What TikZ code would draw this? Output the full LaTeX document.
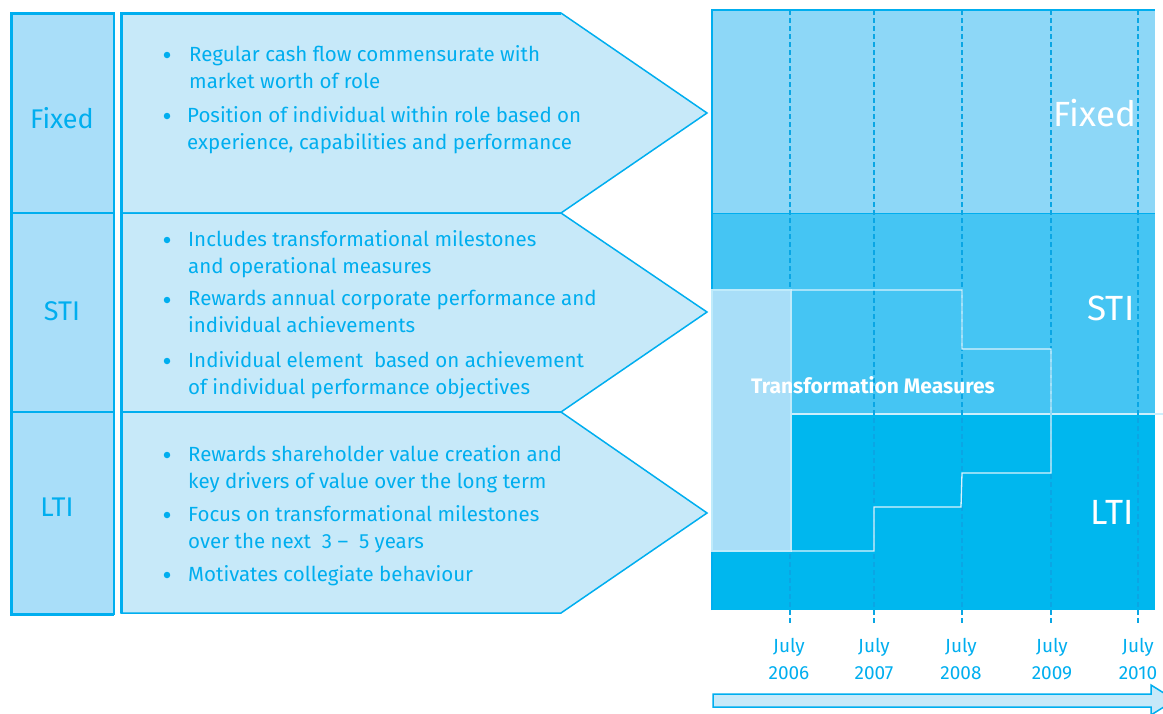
\documentclass[tikz,border=0pt]{standalone}
\usepackage{fontspec}
\setmainfont{Fira Sans}
\definecolor{cy}{HTML}{00AEEF}
\definecolor{dl}{HTML}{0AA6E4}
\definecolor{lbox}{HTML}{A9DEF9}
\definecolor{chev}{HTML}{C7E9F9}
\definecolor{bfix}{HTML}{8DD7F7}
\definecolor{bsti}{HTML}{45C5F3}
\definecolor{blti}{HTML}{00B7EE}
\definecolor{tm}{HTML}{A8DEF8}
\begin{document}
\begin{tikzpicture}[x=1pt,y=-1pt,
  chevbox/.style={fill=chev,draw=cy,line width=1.5pt,line join=miter},
  labbox/.style={fill=lbox,draw=cy,line width=1.5pt},
  lab/.style={text=cy,font=\fontsize{27}{30}\selectfont},
  bul/.style={text=cy,anchor=north west,align=left,inner sep=0pt,font=\fontsize{20.5}{27}\selectfont},
  dot/.style={fill=cy,circle,inner sep=0pt,minimum size=6.5pt},
  big/.style={text=white,font=\fontsize{35}{38}\selectfont},
  yr/.style={text=cy,font=\fontsize{19}{27}\selectfont,align=center},
  vline/.style={draw=dl,line width=2.5pt,dash pattern=on 5pt off 3pt},
  stepline/.style={draw=white!85!cy,line width=1.3pt}]
\useasboundingbox (0,0) rectangle (1163,713);
% left labels
\draw[labbox] (11,13) rectangle (114,213);
\draw[labbox] (11,213) rectangle (114,412);
\draw[labbox] (11,412) rectangle (114,614);
\draw[cy,line width=3pt] (11,613) -- (11,13) -- (114,13);
\draw[cy,line width=3pt] (10,614) -- (114,614);
\node[lab] (lfix) at (62,118) {Fixed};
\node[lab] (lsti) at (62,311) {STI};
\node[lab] (llti) at (57,507) {LTI};
% chevrons
\draw[chevbox] (121,13) -- (561,13) -- (707,113) -- (561,213) -- (121,213) -- cycle;
\draw[chevbox] (121,213) -- (561,213) -- (707,312) -- (561,412) -- (121,412) -- cycle;
\draw[chevbox] (121,412) -- (561,412) -- (707,513) -- (561,613) -- (121,613) -- cycle;
\draw[cy,line width=3pt] (121,613) -- (121,13) -- (561,13);
\draw[cy,line width=2.5pt] (121,412) -- (561,412);
% bullets
\foreach \n/\y in {1/55,2/116,3/240,4/300,5/361,6/455,7/515,8/575}
  \node[dot] (d\n) at (167,\y) {};
\node[bul] (t1) at (189,45) {Regular cash flow commensurate with\\market worth of role};
\node[bul] (t2) at (187,106) {Position of individual within role based on\\experience, capabilities and performance};
\node[bul] (t3) at (188,230) {Includes transformational milestones\\and operational measures};
\node[bul] (t4) at (188,290) {Rewards annual corporate performance and\\individual achievements};
\node[bul] (t5) at (188,351) {Individual element\ \ based on achievement\\of individual performance objectives};
\node[bul] (t6) at (188,445) {Rewards shareholder value creation and\\key drivers of value over the long term};
\node[bul] (t7) at (188,505) {Focus on transformational milestones\\over the next\ \ 3 –\ \ 5 years};
\node[bul] (t8) at (188,565) {Motivates collegiate behaviour};
% right chart bands
\fill[bfix] (712,10) rectangle (1155,213);
\fill[bsti] (712,213) rectangle (1155,413);
\fill[blti] (712,413) rectangle (1155,610);
\draw[cy,line width=1.2pt] (712,610) -- (712,10) -- (1155,10);
\draw[cy,line width=1pt] (712,213) -- (1155,213);
\draw[white!80!cy,line width=1.2pt] (712,414) -- (1163,414);
% dashed year lines
\foreach \x/\n in {790/a,874/b,962/c,1051/d,1138/e}{
  \coordinate (top\n) at (\x,10);
  \coordinate (bot\n) at (\x,625);
  \draw[vline] (top\n) -- (bot\n);
}
% transformation measures
\draw[fill=tm,draw=white!75!cy,line width=1.3pt] (712,290) rectangle (791,551);
\draw[stepline] (791,290) -- (962,290) -- (962,349) -- (1051,349) -- (1051,473) -- (962,473) -- (961,507) -- (874,507) -- (874,551) -- (791,551);
\node[text=white,font=\bfseries\fontsize{21}{23}\selectfont] (tmt) at (873,385) {Transformation Measures};
\node[big] (rfix) at (1095,113) {Fixed};
\node[big] (rsti) at (1111,308) {STI};
\node[big] (rlti) at (1112,512) {LTI};
% year labels
\node[yr] (y1) at (789,659) {July\\2006};
\node[yr] (y2) at (874,659) {July\\2007};
\node[yr] (y3) at (961,659) {July\\2008};
\node[yr] (y4) at (1052,659) {July\\2009};
\node[yr] (y5) at (1138,659) {July\\2010};
% timeline arrow
\draw[fill=chev,draw=cy,line width=1.5pt] (713,694) -- (1151,694) -- (1151,685) -- (1175,700) -- (1151,715) -- (1151,707) -- (713,707) -- cycle;
\end{tikzpicture}
\end{document}
